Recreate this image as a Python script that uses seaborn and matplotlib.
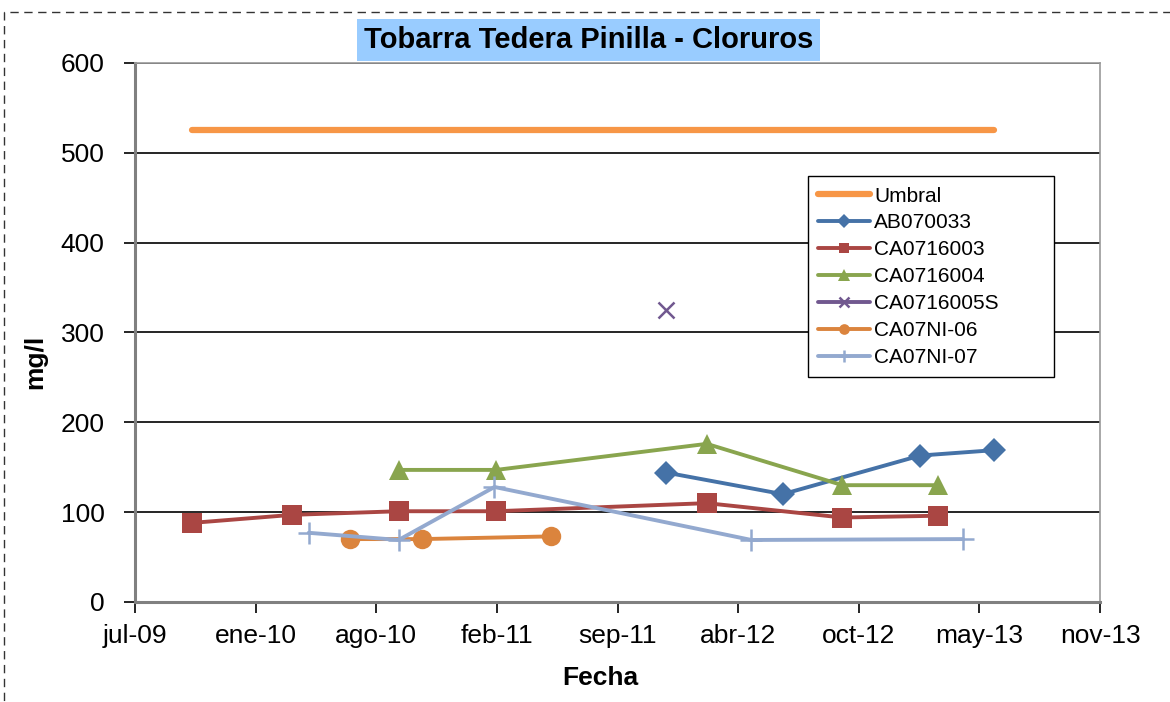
import pandas as pd
import seaborn as sns
import matplotlib.pyplot as plt
from matplotlib.patches import Rectangle

# --- data ---
umbral_fechas = ["2009-10-08", "2013-05-31"]
umbral_valores = [525, 525]

ab070033_fechas = ["2011-12-04", "2012-06-14", "2013-01-28", "2013-05-31"]
ab070033_valores = [144, 120, 163, 169]

ca0716003_fechas = ["2009-10-08", "2010-03-24", "2010-09-16", "2011-02-25",
                    "2012-02-09", "2012-09-21", "2013-02-26"]
ca0716003_valores = [88, 97, 101, 101, 110, 94, 96]

ca0716004_fechas = ["2010-09-16", "2011-02-25", "2012-02-09", "2012-09-21", "2013-02-26"]
ca0716004_valores = [147, 147, 176, 130, 130]

ca0716005s_fechas = ["2011-12-04"]
ca0716005s_valores = [325]

ca07ni06_fechas = ["2010-06-28", "2010-10-25", "2011-05-27"]
ca07ni06_valores = [70, 70, 73]

ca07ni07_fechas = ["2010-04-20", "2010-09-16", "2011-02-22", "2012-04-23", "2013-04-09"]
ca07ni07_valores = [77, 69, 128, 69, 70]

tick_labels = ["jul-09", "ene-10", "ago-10", "feb-11", "sep-11",
               "abr-12", "oct-12", "may-13", "nov-13"]

series = [
    # name, dates, values, color, marker, markersize, linewidth
    ("Umbral", umbral_fechas, umbral_valores, "#F79646", None, 0, 4.5),
    ("AB070033", ab070033_fechas, ab070033_valores, "#4572A7", "D", 12.5, 2.8),
    ("CA0716003", ca0716003_fechas, ca0716003_valores, "#AA4643", "s", 14, 2.8),
    ("CA0716004", ca0716004_fechas, ca0716004_valores, "#89A54E", "^", 15, 2.8),
    ("CA0716005S", ca0716005s_fechas, ca0716005s_valores, "#71588F", "x", 12, 2.8),
    ("CA07NI-06", ca07ni06_fechas, ca07ni06_valores, "#DB843D", "o", 14, 2.8),
    ("CA07NI-07", ca07ni07_fechas, ca07ni07_valores, "#93A9CF", "+", 16, 2.8),
]

sns.set_style("white")
plt.rcParams["font.family"] = ["Liberation Sans", "DejaVu Sans"]
plt.rcParams["text.color"] = "black"
plt.rcParams["axes.labelcolor"] = "black"
plt.rcParams["xtick.color"] = "black"
plt.rcParams["ytick.color"] = "black"

fig = plt.figure(figsize=(11.7, 7.02), dpi=100)
ax = fig.add_axes([0.1154, 0.1425, 0.8248, 0.7678])

for name, fechas, valores, color, marker, ms, lw in series:
    df = pd.DataFrame({"fecha": pd.to_datetime(fechas), "valor": valores})
    kw = dict(marker=marker, markersize=ms, markeredgewidth=1.8 if marker in ("+", "x") else 0,
              markeredgecolor=color) if marker else {}
    sns.lineplot(data=df, x="fecha", y="valor", color=color, linewidth=lw,
                 label=name, ax=ax, estimator=None, sort=False, **kw)

# axes limits / ticks (Excel date axis, major unit 200 days)
inicio = pd.Timestamp("2009-07-06")
ticks = pd.date_range(inicio, periods=len(tick_labels), freq="200D")
ax.set_xlim(ticks[0], ticks[-1])
ax.set_xticks(ticks)
ax.set_xticklabels(tick_labels)
ax.set_ylim(0, 600)
ax.set_yticks(range(0, 601, 100))

ax.tick_params(axis="both", which="major", labelsize=19, direction="out",
               length=8, width=1.2, color="black", bottom=True, left=True)
ax.tick_params(axis="y", pad=14)
ax.tick_params(axis="x", pad=8)

ax.grid(axis="y", color="black", linewidth=1.2)
ax.grid(axis="x", visible=False)
ax.set_axisbelow(True)

for side in ("left", "bottom"):
    ax.spines[side].set_color("#808080")
    ax.spines[side].set_linewidth(2.2)
for side in ("top", "right"):
    ax.spines[side].set_color("#9A9A9A")
    ax.spines[side].set_linewidth(1.2)

ax.set_xlabel("Fecha", fontsize=19, fontweight="bold")
ax.xaxis.set_label_coords(0.482, -0.118)
ax.set_ylabel("mg/l", fontsize=19, fontweight="bold")
ax.yaxis.set_label_coords(-0.091, 0.445)

fig.text(588.5 / 1170, 1 - 40 / 702, "Tobarra Tedera Pinilla - Cloruros",
         fontsize=21, fontweight="bold", ha="center", va="center",
         bbox=dict(facecolor="#99CCFF", edgecolor="none", pad=5))

leg = ax.legend(loc="upper left", bbox_to_anchor=(0.697, 0.419, 0.255, 0.371),
                mode="expand", borderaxespad=0,
                fontsize=15, frameon=True, fancybox=False, framealpha=1,
                edgecolor="black", markerscale=0.55, handlelength=2.5,
                handletextpad=0.2, labelspacing=0.38, borderpad=0.5)
leg.get_frame().set_linewidth(1.0)

# dashed outer chart-area border
fig.patches.append(Rectangle((4 / 1170, -0.2), 1.2, 1.2 - 12 / 702, transform=fig.transFigure,
                             fill=False, edgecolor="#333333", linewidth=1.0,
                             linestyle=(0, (6, 4)), clip_on=False))

fig.savefig("out.png", dpi=100)
plt.close(fig)
